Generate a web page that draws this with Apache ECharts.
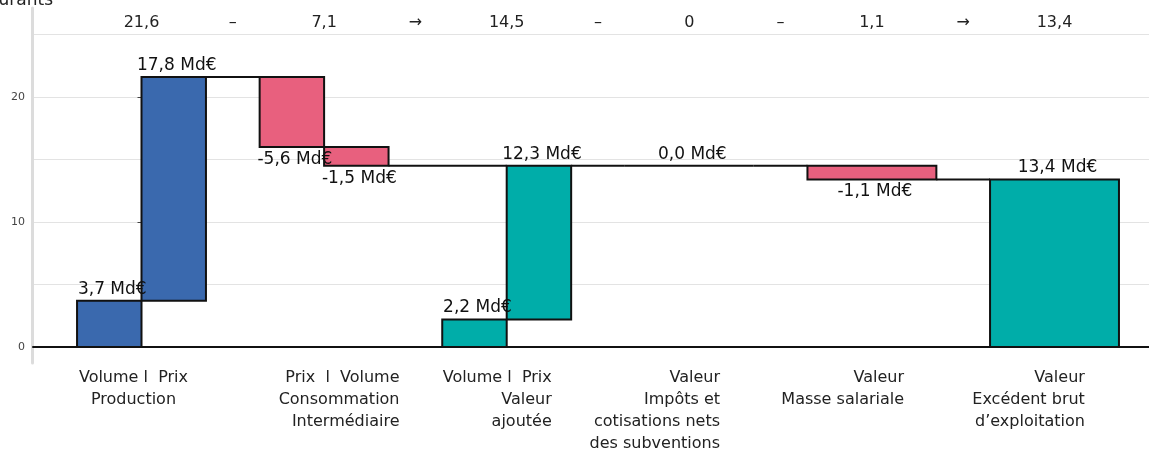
<!DOCTYPE html>
<html>
<head>
<meta charset="utf-8">
<script src="https://cdn.jsdelivr.net/npm/echarts@6/dist/echarts.min.js"></script>
<style>
html, body { margin: 0; padding: 0; background: #fff; }
#chart { width: 1149px; height: 452px; }
</style>
</head>
<body>
<div id="chart"></div>
<script>
// libellés des groupes (axe du bas)
var categories = [
    ['Volume l  Prix', 'Production'],
    ['Prix  l  Volume', 'Consommation', 'Intermédiaire'],
    ['Volume l  Prix', 'Valeur', 'ajoutée'],
    ['Valeur', 'Impôts et', 'cotisations nets', 'des subventions'],
    ['Valeur', 'Masse salariale'],
    ['Valeur', 'Excédent brut', 'd\u2019exploitation']
];
// ligne du haut
var topValues = ['21,6', '7,1', '14,5', '0', '1,1', '13,4'];
var topOps = ['\u2013', '\u2192', '\u2013', '\u2013', '\u2192'];
// niveau / variation de chaque groupe (Md€)
var groupTotals = [21.6, -7.1, 14.5, 0, -1.1, 13.4];
var groupKind = ['level', 'delta', 'level', 'delta', 'delta', 'level'];
// barres élémentaires
var segValues = [3.7, 17.8, -5.6, -1.5, 2.2, 12.3, 0.0, -1.1, 13.4];
var segGroup = [0, 0, 1, 1, 2, 2, 3, 4, 5];
var yTicks = [0, 10, 20];

// mise en forme
var segSlot = ['L', 'R', 'L', 'R', 'L', 'R', 'W', 'W', 'W'];
var BLUE = '#3a69ae', PINK = '#e8607e', TEAL = '#00ada9';
var segColor = [BLUE, BLUE, PINK, PINK, TEAL, TEAL, TEAL, PINK, TEAL];
var halfW = 0.353;
var labelShift = [-0.044, 0.082, -0.052, -0.189, -0.16, -0.142];
var labelAlign = ['c', 'r', 'r', 'r', 'r', 'r'];
var FONT = '"DejaVu Sans", sans-serif';

function fmt(v) {
    return v.toFixed(1).replace('.', ',') + ' Md\u20ac';
}

// construction des rectangles et des liaisons
var bars = [], links = [];
var level = 0, k = 0;
for (var g = 0; g < categories.length; g++) {
    var start = groupKind[g] === 'level' ? 0 : level;
    var end = groupKind[g] === 'level' ? groupTotals[g] : level + groupTotals[g];
    var idx = [];
    for (; k < segValues.length && segGroup[k] === g; k++) idx.push(k);
    var cur = start;
    for (var j = 0; j < idx.length; j++) {
        var s = idx[j];
        var next = j === idx.length - 1 ? end : cur + segValues[s];
        var x0 = segSlot[s] === 'R' ? g : g - halfW;
        var x1 = segSlot[s] === 'L' ? g : g + halfW;
        bars.push([x0, x1, cur, next, segValues[s], s]);
        cur = next;
    }
    if (g > 0) {
        var lastSlot = segSlot[idx[idx.length - 1]];
        var xEnd = (groupKind[g] === 'level' && lastSlot === 'R') ? g : g - halfW;
        links.push([g - 1 + halfW, xEnd, level]);
    }
    level = end;
}

var topPos = [];
for (var i = 0; i < topValues.length; i++) {
    topPos.push(i);
    if (i < topOps.length) topPos.push(i + 0.5);
}
var catPos = categories.map(function (c, i) { return i + labelShift[i]; });

var xMin = -0.5942, xMax = 5.5175;

var chart = echarts.init(document.getElementById('chart'));
chart.setOption({
    animation: false,
    grid: [
        { left: 33, right: 0, top: 34.5, bottom: 105 },
        { left: 32, width: 10, top: 8, bottom: 89 }
    ],
    graphic: [{
        type: 'text',
        x: 53, y: 9,
        style: {
            text: 'Milliards d\u2019euros courants',
            font: '17px ' + FONT, fill: '#222',
            align: 'right', verticalAlign: 'bottom'
        }
    }],
    xAxis: [
        {
            type: 'value', gridIndex: 0, min: xMin, max: xMax,
            axisLine: { lineStyle: { color: '#111', width: 2 } },
            axisTick: { show: false },
            splitLine: { show: false },
            axisLabel: {
                customValues: catPos,
                margin: 20,
                formatter: function (v) {
                    var gi = 0;
                    catPos.forEach(function (p, n) { if (Math.abs(p - v) < 1e-6) gi = n; });
                    var st = labelAlign[gi];
                    return categories[gi].map(function (l) { return '{' + st + '|' + l + '}'; }).join('\n');
                },
                rich: {
                    c: { align: 'center', lineHeight: 22, fontSize: 16, fontFamily: FONT, color: '#222' },
                    r: { align: 'right', lineHeight: 22, fontSize: 16, fontFamily: FONT, color: '#222' }
                }
            }
        },
        {
            type: 'value', gridIndex: 0, position: 'top', min: xMin, max: xMax,
            axisLine: { show: false },
            axisTick: { show: false },
            splitLine: { show: false },
            axisLabel: {
                customValues: topPos,
                margin: 4,
                fontSize: 16, fontFamily: FONT, color: '#222',
                formatter: function (v) {
                    var n = Math.round(v * 2);
                    return n % 2 === 0 ? topValues[n / 2] : topOps[(n - 1) / 2];
                }
            }
        },
        { type: 'value', gridIndex: 1, show: false }
    ],
    yAxis: [
        {
            type: 'value', gridIndex: 0, min: 0, max: 25, interval: 5,
            axisLine: { show: false },
            axisTick: { show: false },
            axisLabel: { show: false },
            splitLine: { lineStyle: { color: '#e3e3e3', width: 1 } }
        },
        {
            type: 'value', gridIndex: 0, position: 'left', min: 0, max: 25,
            axisLine: { show: false },
            axisTick: { show: true, customValues: yTicks, length: 4, lineStyle: { color: '#444' } },
            axisLabel: { customValues: yTicks, margin: 8, fontSize: 11, fontFamily: FONT, color: '#444' },
            splitLine: { show: false }
        },
        {
            type: 'value', gridIndex: 1, min: 0, max: 1,
            axisLine: { show: true, lineStyle: { color: '#dcdcdc', width: 3 } },
            axisTick: { show: false },
            axisLabel: { show: false },
            splitLine: { show: false }
        }
    ],
    series: [
        {
            type: 'custom',
            xAxisIndex: 0, yAxisIndex: 0,
            data: links,
            z: 2,
            renderItem: function (params, api) {
                var a = api.coord([api.value(0), api.value(2)]);
                var b = api.coord([api.value(1), api.value(2)]);
                return {
                    type: 'line',
                    shape: { x1: a[0], y1: a[1], x2: b[0], y2: b[1] },
                    style: { stroke: '#111', lineWidth: 2 }
                };
            }
        },
        {
            type: 'custom',
            xAxisIndex: 0, yAxisIndex: 0,
            data: bars,
            z: 3,
            renderItem: function (params, api) {
                var v = api.value(4);
                var lo = Math.min(api.value(2), api.value(3));
                var hi = Math.max(api.value(2), api.value(3));
                var p0 = api.coord([api.value(0), hi]);
                var p1 = api.coord([api.value(1), lo]);
                var cx = (p0[0] + p1[0]) / 2 + 3;
                var up = v >= 0;
                return {
                    type: 'group',
                    children: [
                        {
                            type: 'rect',
                            shape: { x: p0[0], y: p0[1], width: p1[0] - p0[0], height: p1[1] - p0[1] },
                            style: { fill: segColor[api.value(5)], stroke: '#111', lineWidth: 2 }
                        },
                        {
                            type: 'text',
                            z2: 10,
                            style: {
                                text: fmt(v),
                                x: cx,
                                y: up ? p0[1] - 3 : p1[1] + 4,
                                align: 'center',
                                verticalAlign: up ? 'bottom' : 'top',
                                font: '17px ' + FONT,
                                fill: '#111'
                            }
                        }
                    ]
                };
            }
        }
    ]
});
</script>
</body>
</html>
